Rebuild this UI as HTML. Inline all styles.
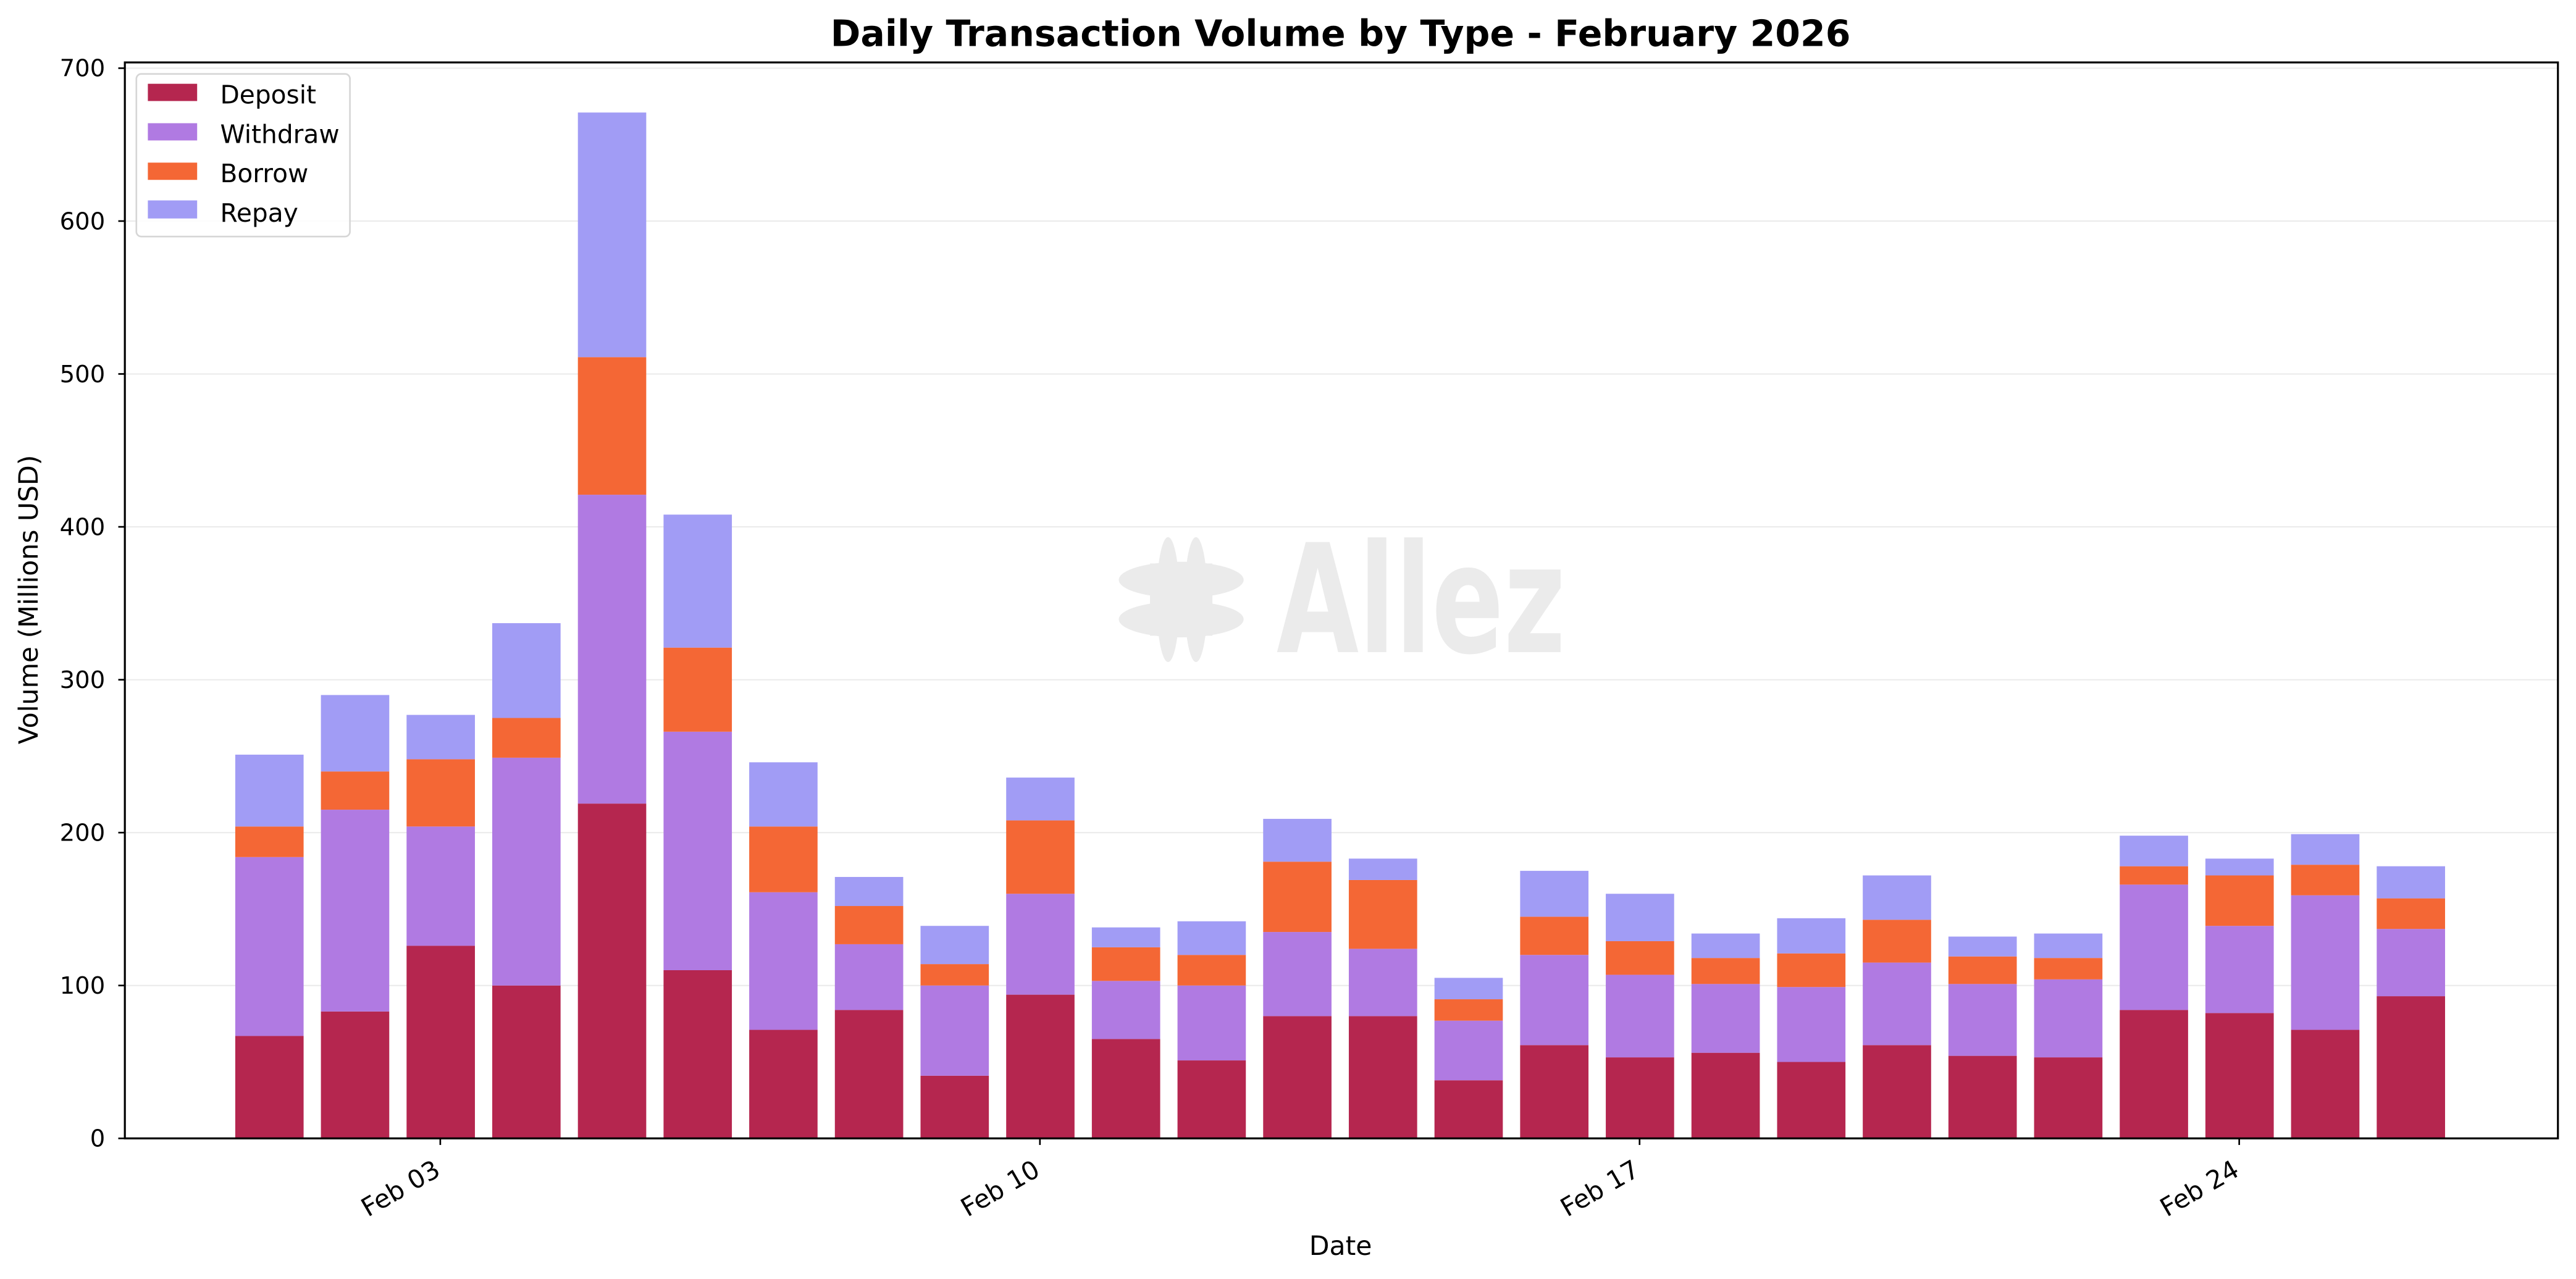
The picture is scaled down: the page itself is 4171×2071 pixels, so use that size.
<!DOCTYPE html>
<html><head><meta charset="utf-8"><style>
html,body{margin:0;padding:0;background:#fff;}
svg{display:block;}
text{font-family:"DejaVu Sans","Liberation Sans",sans-serif;fill:#000;}
</style></head><body>
<svg id="s" width="4171" height="2071" viewBox="0 0 1568 778.6" preserveAspectRatio="none" xmlns="http://www.w3.org/2000/svg">
<rect width="1568" height="778.6" fill="#fff"/>
<g id="grid" stroke="#ebebeb" stroke-width="0.8"></g>
<g id="wm" fill="#ebebeb">
<ellipse cx="711" cy="365" rx="7" ry="38"/>
<ellipse cx="728" cy="365" rx="7" ry="38"/>
<ellipse cx="719" cy="353" rx="38" ry="11"/>
<ellipse cx="719" cy="377" rx="38" ry="11"/>
<rect x="700" y="343" width="38" height="44"/>
<text x="777" y="397" font-family="Liberation Sans,sans-serif" font-weight="bold" font-size="92" textLength="176" lengthAdjust="spacingAndGlyphs" style="fill:#ebebeb">Allez</text>
</g>
<g id="bars"></g>
<g stroke="#000" stroke-width="1.2" fill="none"><rect x="76" y="38" width="1481" height="655"/></g>
<g id="ticks" stroke="#000" stroke-width="1"></g>
<g id="yl" font-size="14.5" text-anchor="end"></g>
<g font-size="15.5" text-anchor="end">
<text transform="translate(269,715) rotate(-30)">Feb 03</text>
<text transform="translate(634,715) rotate(-30)">Feb 10</text>
<text transform="translate(999,715) rotate(-30)">Feb 17</text>
<text transform="translate(1364,715) rotate(-30)">Feb 24</text>
</g>
<text x="816" y="764" font-size="16" text-anchor="middle">Date</text>
<text transform="translate(23,365) rotate(-90)" font-size="16" text-anchor="middle">Volume (Millions USD)</text>
<text x="816" y="28" font-size="22" font-weight="bold" text-anchor="middle">Daily Transaction Volume by Type - February 2026</text>
<g>
<rect x="83" y="45" width="130" height="99" rx="3" fill="#fff" fill-opacity="0.85" stroke="#d6d6d6" stroke-width="1"/>
<rect x="90" y="51" width="30" height="10.5" fill="#b5264f"/>
<rect x="90" y="75" width="30" height="10.5" fill="#b07ae2"/>
<rect x="90" y="99" width="30" height="10.5" fill="#f46735"/>
<rect x="90" y="122" width="30" height="11" fill="#a19cf5"/>
<text x="134" y="63" font-size="15.3">Deposit</text>
<text x="134" y="87" font-size="15.3">Withdraw</text>
<text x="134" y="111" font-size="15.3">Borrow</text>
<text x="134" y="135" font-size="15.3">Repay</text>
</g>
</svg>
<script>
var d=[[67,184,204,251],[83,215,240,290],[126,204,248,277],[100,249,275,337],[219,421,511,671],[110,266,321,408],[71,161,204,246],[84,127,152,171],[41,100,114,139],[94,160,208,236],[65,103,125,138],[51,100,120,142],[80,135,181,209],[80,124,169,183],[38,77,91,105],[61,120,145,175],[53,107,129,160],[56,101,118,134],[50,99,121,144],[61,115,143,172],[54,101,119,132],[53,104,118,134],[84,166,178,198],[82,139,172,183],[71,159,179,199],[93,137,157,178]];
var col=["#b5264f","#b07ae2","#f46735","#a19cf5"];
var ns="http://www.w3.org/2000/svg";
function y(v){return 693-v*0.9307;}
function el(g,t,a){var e=document.createElementNS(ns,t);for(var k in a)e.setAttribute(k,a[k]);document.getElementById(g).appendChild(e);return e;}
for(var i=1;i<=7;i++){el("grid","line",{x1:76,x2:1557,y1:y(i*100),y2:y(i*100)});}
d.forEach(function(r,i){var cx=164+i*52.14;var prev=0;for(var j=0;j<4;j++){el("bars","rect",{x:cx-20.8,width:41.6,y:y(r[j]),height:y(prev)-y(r[j]),fill:col[j]});prev=r[j];}});
for(var i=0;i<=7;i++){el("ticks","line",{x1:72,x2:76,y1:y(i*100),y2:y(i*100)});var t=el("yl","text",{x:64,y:y(i*100)+5});t.textContent=i*100;}
[268,633,998,1363].forEach(function(x){el("ticks","line",{x1:x,x2:x,y1:693,y2:697});});
</script>
</body></html>
